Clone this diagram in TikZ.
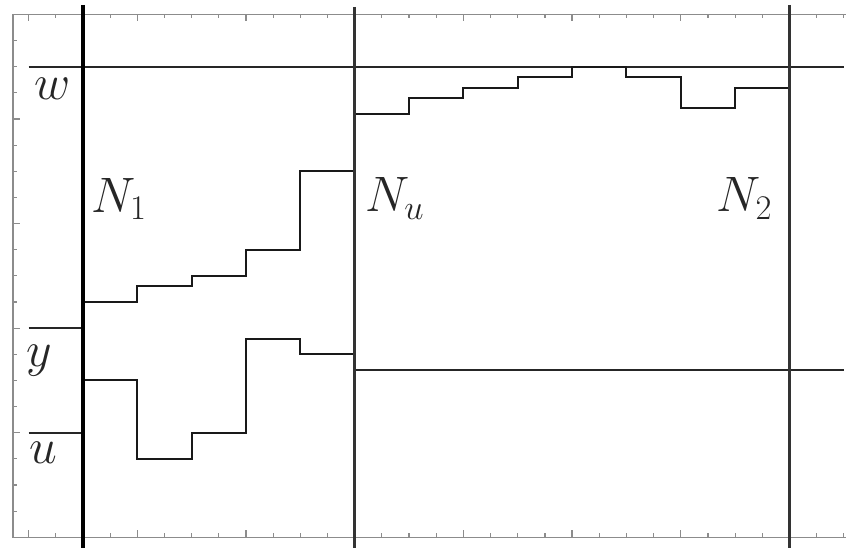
\documentclass[tikz,border=0pt]{standalone}
\begin{document}
\begin{tikzpicture}[x=13.585pt, y=13.07pt,
  frame/.style={draw=black!45, line width=0.75pt},
  tickmark/.style={draw=black!45, line width=0.6pt},
  divider/.style={line width=1.75pt, draw=black!80},
  mainline/.style={line width=2.2pt, draw=black},
  level/.style={line width=1pt, draw=black!85},
  stair/.style={line width=1pt, draw=black!90, line join=miter},
  lab/.style={font=\fontsize{24}{28}\selectfont, inner sep=0pt, anchor=base, text=black!85}]
\useasboundingbox (-1.053,-0.49) rectangle (30.08,20.55);
% frame
\draw[frame] (30.3,20) -- (-0.574,20) -- (-0.574,0) -- (30.3,0);
% ticks
\foreach \t in {0,...,30} {
  \pgfmathsetmacro\len{ifthenelse(mod(\t,4)==0,3.5,2)}
  \draw[tickmark] (\t,20) -- ++(0pt,-\len pt);
  \draw[tickmark] (\t,0) -- ++(0pt,\len pt);
}
\foreach \v in {0,...,20} {
  \pgfmathsetmacro\len{ifthenelse(mod(\v,4)==0,3.5,2)}
  \draw[tickmark] (-0.574,\v) -- ++(\len pt,0pt);
}
% horizontal levels
\coordinate (w0) at (0,18);   \coordinate (w1) at (30,18);
\coordinate (y0) at (0,8);    \coordinate (y1) at (2,8);
\coordinate (u0) at (0,4);    \coordinate (u1) at (2,4);
\coordinate (r0) at (12,6.4); \coordinate (r1) at (30,6.4);
\draw[level] (w0) -- (w1);
\draw[level] (y0) -- (y1);
\draw[level] (u0) -- (u1);
\draw[level] (r0) -- (r1);
% staircases
\draw[stair] (2,9) -- (4,9) -- (4,9.6) -- (6,9.6) -- (6,10) -- (8,10) -- (8,11) -- (10,11) -- (10,14) -- (12,14);
\draw[stair] (2,6) -- (4,6) -- (4,3) -- (6,3) -- (6,4) -- (8,4) -- (8,7.6) -- (10,7.6) -- (10,7) -- (12,7);
\draw[stair] (12,16.2) -- (14,16.2) -- (14,16.8) -- (16,16.8) -- (16,17.2) -- (18,17.2) -- (18,17.6) -- (20,17.6) -- (20,18) -- (22,18) -- (22,17.6) -- (24,17.6) -- (24,16.4) -- (26,16.4) -- (26,17.2) -- (28,17.2);
% vertical dividers
\coordinate (n1t) at (2,20.36);  \coordinate (n1b) at (2,-0.41);
\coordinate (nut) at (12,20.29); \coordinate (nub) at (12,-0.41);
\coordinate (n2t) at (28,20.36); \coordinate (n2b) at (28,-0.41);
\draw[mainline] (n1t) -- (n1b);
\draw[divider] (nut) -- (nub);
\draw[divider] (n2t) -- (n2b);
% labels
\node[lab] (lw) at (0.9,16.76) {$w$};
\node[lab] (ly) at (0.4,6.55) {$y$};
\node[lab] (lu) at (0.53,2.83) {$u$};
\node[lab] (lN1) at (3.33,12.44) {$N_1$};
\node[lab] (lNu) at (13.48,12.45) {$N_u$};
\node[lab] (lN2) at (26.35,12.45) {$N_2$};
\end{tikzpicture}
\end{document}
